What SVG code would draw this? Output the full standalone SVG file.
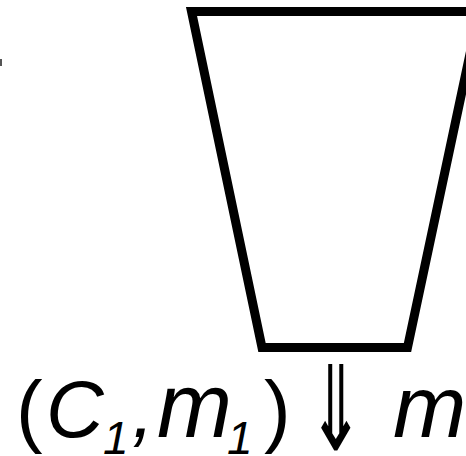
<svg xmlns="http://www.w3.org/2000/svg" width="466" height="456" viewBox="0 0 466 456">
<style>
.shape{fill:none;stroke:#000;stroke-width:9;stroke-linejoin:miter}
.t{font-family:"Liberation Sans",Arial,sans-serif;fill:#000}
.i{font-style:italic}
</style>
<rect width="466" height="456" fill="#fff"/>
<g id="trapezoid">
<polygon class="shape" points="191.5,11.5 479,11.5 407.5,347.5 262,347.5"/>
</g>
<g id="mark">
<rect x="0" y="59" width="2" height="7" fill="#555"/>
</g>
<g id="label">
<text class="t" y="437" font-size="80"><tspan x="16">(</tspan><tspan class="i" x="46">C</tspan><tspan class="i" x="103" y="454" font-size="46">1</tspan><tspan class="i" x="132" y="437">,</tspan><tspan class="i" x="157" font-size="90">m</tspan><tspan class="i" x="227" y="454" font-size="46">1</tspan><tspan x="264" y="437">)</tspan><tspan class="i" x="393" font-size="88">m</tspan></text>
<text class="t" font-family="DejaVu Sans" font-size="80" transform="translate(307,450) scale(0.86,1.48)">⇓</text>
</g>
</svg>
